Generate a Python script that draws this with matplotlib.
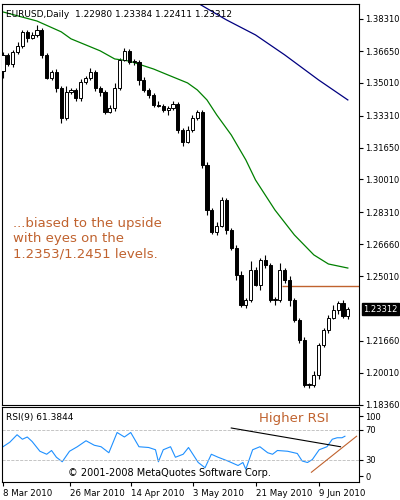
import numpy as np
import matplotlib
matplotlib.use("Agg")
import matplotlib.pyplot as plt

# daily closes EURUSD (open = previous close)
closes = [1.3645, 1.3600, 1.3660, 1.3690, 1.3764, 1.3733, 1.3748, 1.3774, 1.3645, 1.3526,
          1.3557, 1.3474, 1.3319, 1.3453, 1.3464, 1.3420, 1.3505, 1.3526, 1.3557, 1.3474,
          1.3453, 1.3350, 1.3371, 1.3474, 1.3619, 1.3665, 1.3610, 1.3608, 1.3515, 1.3464,
          1.3438, 1.3386, 1.3381, 1.3360, 1.3371, 1.3391, 1.3257, 1.3195, 1.3257, 1.3319,
          1.3350, 1.3076, 1.2843, 1.2730, 1.2761, 1.2895, 1.2740, 1.2647, 1.2507, 1.2352,
          1.2378, 1.2533, 1.2456, 1.2585, 1.2559, 1.2378, 1.2378, 1.2533, 1.2481, 1.2378,
          1.2275, 1.2171, 1.1938, 1.1938, 1.1990, 1.2145, 1.2223, 1.2285, 1.2326, 1.2360,
          1.2295, 1.2331]
first_open = 1.3560
wick_up = [4, 2, 3, 5, 3, 2, 4, 6, 2, 3, 2, 4, 3, 8, 2, 3, 4, 2, 5, 3,
           2, 3, 4, 6, 3, 4, 2, 3, 2, 4, 3, 2, 5, 2, 3, 4, 2, 3, 5, 4,
           3, 2, 4, 3, 5, 4, 3, 2, 4, 5, 3, 12, 4, 3, 6, 3, 4, 9, 3, 5,
           3, 2, 4, 3, 5, 2, 3, 4, 6, 3, 4, 3]
wick_dn = [8, 3, 4, 2, 3, 5, 2, 3, 4, 2, 3, 5, 6, 3, 2, 4, 3, 2, 3, 4,
           5, 3, 2, 4, 3, 2, 3, 4, 6, 3, 4, 3, 2, 3, 6, 3, 4, 5, 2, 3,
           3, 4, 7, 3, 4, 2, 5, 3, 7, 3, 4, 3, 2, 6, 4, 3, 7, 3, 4, 8,
           3, 4, 2, 4, 3, 5, 3, 4, 2, 5, 3, 4]

# moving averages sampled at candle indices
ma_green_idx = [0, 7, 12, 14, 20, 23, 26, 31, 34, 38, 40, 42, 44, 47, 50, 52, 56, 60, 64, 67, 71]
ma_green = [1.3867, 1.3820, 1.3764, 1.3728, 1.3666, 1.3624, 1.3613, 1.3572, 1.3541, 1.3500,
            1.3464, 1.3412, 1.3335, 1.3231, 1.3102, 1.2998, 1.2843, 1.2714, 1.2611, 1.2564, 1.2543]
ma_blue_idx = [39, 46, 52, 58, 65, 71]
ma_blue = [1.3929, 1.3826, 1.3748, 1.3645, 1.3515, 1.3412]

rsi_idx = [0, 1.4, 2.9, 4, 5, 6, 7.6, 9, 10, 11, 12.2, 13.7, 15.3, 17.1, 18.8, 20.2, 21.8, 23.5,
           25, 26.3, 28, 30, 31.4, 32, 33, 34.5, 35.5, 37.1, 38.2, 40.2, 41.6, 42.9, 44.3, 46.3,
           48.4, 49.4, 50, 51.4, 52.9, 54.5, 55.5, 56.5, 58.6, 60.6, 61.6, 62.7, 63.7, 65.1,
           66.7, 67.8, 68.8, 69.8, 70.4]
rsi = [47, 53, 63, 57, 60, 54, 41, 37, 42, 33, 27, 41, 47, 55, 49, 47, 39, 66, 60, 66, 47, 46,
       43, 27, 43, 47, 33, 37, 46, 26, 19, 37, 33, 28, 22, 26, 17, 43, 47, 39, 37, 42, 41, 38,
       28, 26, 30, 43, 47, 57, 59, 59, 61]

price_ticks = [1.38310, 1.36650, 1.35010, 1.33310, 1.31650, 1.30010, 1.28310,
               1.26660, 1.25010, 1.21660, 1.20010, 1.18360]
date_pos = [0, 13.7, 26.3, 39.2, 52, 65]
date_labels = ["8 Mar 2010", "26 Mar 2010", "14 Apr 2010", "3 May 2010", "21 May 2010", "9 Jun 2010"]

PX = 0.0001  # wick unit
brown = "#c0622e"
plt.rcParams["font.family"] = "DejaVu Sans"

fig = plt.figure(figsize=(4, 5), dpi=100)
ax = fig.add_axes([2/400, 1-405/500, 357/400, 401/500])
ax2 = fig.add_axes([2/400, 1-482/500, 357/400, 75/500], sharex=ax)

opens = [first_open] + closes[:-1]
for i, (o, c) in enumerate(zip(opens, closes)):
    hi = max(o, c) + wick_up[i] * PX * 4
    lo = min(o, c) - wick_dn[i] * PX * 4
    ax.vlines(i, lo, hi, color="black", lw=0.8, zorder=2)
    fc = "white" if c >= o else "black"
    h = max(abs(c - o), 0.0003)
    ax.add_patch(plt.Rectangle((i - 0.32, min(o, c)), 0.64, h, facecolor=fc,
                               edgecolor="black", lw=0.7, zorder=3))

ax.plot(ma_green_idx, ma_green, color="#008000", lw=0.9)
ax.plot(ma_blue_idx, ma_blue, color="#000080", lw=0.9)
ax.hlines(1.2451, 57.5, 74, color=brown, lw=1)

ax.set_xlim(-0.2, 73.3)
ax.set_ylim(1.1835, 1.3908)
ax.yaxis.tick_right()
ax.set_yticks(price_ticks)
ax.set_yticklabels([f"{v:.5f}" for v in price_ticks], fontsize=6)
ax.tick_params(axis="y", length=3, pad=1.5)
ax.tick_params(axis="x", bottom=False, labelbottom=False)
ax.text(1.012, 1.2331, "1.23312", transform=ax.get_yaxis_transform(), fontsize=6,
        color="white", va="center", ha="left",
        bbox=dict(facecolor="black", edgecolor="black", pad=1.0), clip_on=False)
ax.text(0.01, 0.985, "EURUSD,Daily  1.22980 1.23384 1.22411 1.23312", transform=ax.transAxes,
        fontsize=6.5, va="top")
ax.text(0.03, 0.47, "...biased to the upside\nwith eyes on the\n1.2353/1.2451 levels.",
        transform=ax.transAxes, fontsize=9.5, color=brown, va="top", linespacing=1.25)

ax2.plot(rsi_idx, rsi, color="#1e90ff", lw=0.8)
ax2.axhline(70, color="#bbbbbb", ls="--", lw=0.6)
ax2.axhline(30, color="#bbbbbb", ls="--", lw=0.6)
ax2.plot([47, 69.5], [72, 47], color="black", lw=0.8)
ax2.plot([63.5, 72.8], [13, 61], color=brown, lw=0.8)
ax2.set_ylim(0, 100)
ax2.yaxis.tick_right()
ax2.set_yticks([8, 30, 70, 88])
ax2.set_yticklabels(["0", "30", "70", "100"], fontsize=6)
ax2.tick_params(axis="y", length=3, pad=1.5)
ax2.set_xticks(date_pos)
ax2.set_xticklabels(date_labels, fontsize=6.2, ha="left")
ax2.tick_params(axis="x", length=3, pad=2)
ax2.text(0.01, 0.92, "RSI(9) 61.3844", transform=ax2.transAxes, fontsize=6.5, va="top")
ax2.text(0.72, 0.93, "Higher RSI", transform=ax2.transAxes, fontsize=9.5, color=brown,
         va="top", ha="left")
ax2.text(0.47, 0.05, "© 2001-2008 MetaQuotes Software Corp.", transform=ax2.transAxes,
         fontsize=7, ha="center", va="bottom")

fig.savefig("out.png", dpi=100)
